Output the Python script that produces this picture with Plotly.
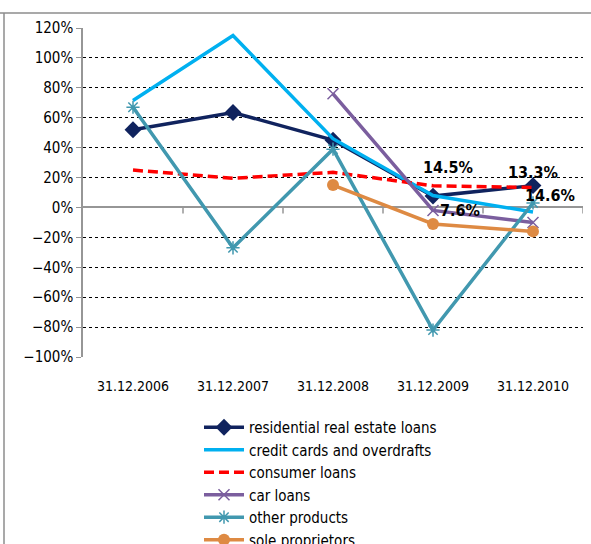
import plotly.graph_objects as go

# categories and series (growth rates, %)
dates = ["31.12.2006", "31.12.2007", "31.12.2008", "31.12.2009", "31.12.2010"]
residential = [52, 63.5, 45, 7.6, 14.6]
credit_cards = [71.5, 115, 46, 8, -3]
consumer = [25, 19.5, 23.5, 14.5, 13.3]
car_loans = [None, None, 76, -2, -10]
other_products = [67, -27, 39, -82, 3]
sole_proprietors = [None, None, 15, -11, -16]

FONT = "DejaVu Sans Condensed, Liberation Sans, Arial, sans-serif"

fig = go.Figure()

def add_series(name, vals, color, width, dash="solid", symbol=None, size=8, msize_line=0):
    mode = "lines+markers" if symbol else "lines"
    fig.add_trace(go.Scatter(
        x=dates, y=vals, name=name, mode=mode,
        line=dict(color=color, width=width, dash=dash),
        marker=dict(symbol=symbol or "circle", size=size, color=color,
                    line=dict(color=color, width=msize_line)),
        connectgaps=False,
    ))

add_series("residential real estate loans", residential, "#10235E", 3.5, symbol="diamond", size=13)
add_series("credit cards and overdrafts", credit_cards, "#00B0F0", 3.5)
add_series("consumer loans", consumer, "#FF0000", 3.5, dash="10px,5px")
add_series("car loans", car_loans, "#7B5E9E", 3.5, symbol="x-thin-open", size=11, msize_line=1.5)
add_series("other products", other_products, "#4198AF", 3.5, symbol="asterisk-open", size=11, msize_line=1.5)
add_series("sole proprietors", sole_proprietors, "#DE8A43", 3.5, symbol="circle", size=12)

# data labels
labels = [
    (dates[3], consumer[3], 15, 18),
    (dates[4], consumer[4], 0, 15),
    (dates[4], residential[4], 17, -10),
    (dates[3], residential[3], 27, -14),
]
for x, y, dx, dy in labels:
    fig.add_annotation(x=x, y=y, text=f"{y:.1f}%", showarrow=False,
                       xshift=dx, yshift=dy,
                       font=dict(family=FONT, size=16, color="black", weight="bold"))

# tick marks on the zero line between categories
for i in range(len(dates)):
    fig.add_shape(type="line", xref="x", yref="y", x0=i + 0.5, x1=i + 0.5, y0=0, y1=-4,
                  line=dict(color="#969696", width=1.5))

# outer frame (cropped chart border)
fig.add_shape(type="line", xref="paper", yref="paper", x0=-0.2, x1=1.1, y0=1.0456, y1=1.0456,
              line=dict(color="#8C8C8C", width=1.5))
fig.add_shape(type="line", xref="paper", yref="paper", x0=-0.158, x1=-0.158, y0=1.0456, y1=-0.7,
              line=dict(color="#8C8C8C", width=1.5))

fig.update_layout(
    width=591, height=544,
    margin=dict(l=83, r=8, t=28, b=187, autoexpand=False),
    paper_bgcolor="white", plot_bgcolor="white",
    font=dict(family=FONT, size=14, color="black"),
    showlegend=True,
    legend=dict(x=0.232, y=-0.164, xanchor="left", yanchor="top",
                font=dict(family=FONT, size=15), tracegroupgap=0, itemwidth=40,
                bgcolor="rgba(0,0,0,0)"),
)
fig.update_xaxes(
    type="category", range=[-0.5, 4.5], showgrid=False, showline=False, zeroline=False,
    ticks="outside", ticklen=16, tickcolor="rgba(0,0,0,0)",
    tickfont=dict(family=FONT, size=14),
)
fig.update_yaxes(
    range=[-100, 120], dtick=20, ticksuffix="%",
    showgrid=True, gridcolor="black", gridwidth=1, griddash="dot",
    zeroline=True, zerolinecolor="#969696", zerolinewidth=1.5,
    showline=True, linecolor="#969696", linewidth=1.5,
    ticks="outside", ticklen=5, tickcolor="#969696",
    tickfont=dict(family=FONT, size=15),
)

fig.write_html("out.html", config={"displayModeBar": False},
               post_script="document.body.style.margin='0';")
